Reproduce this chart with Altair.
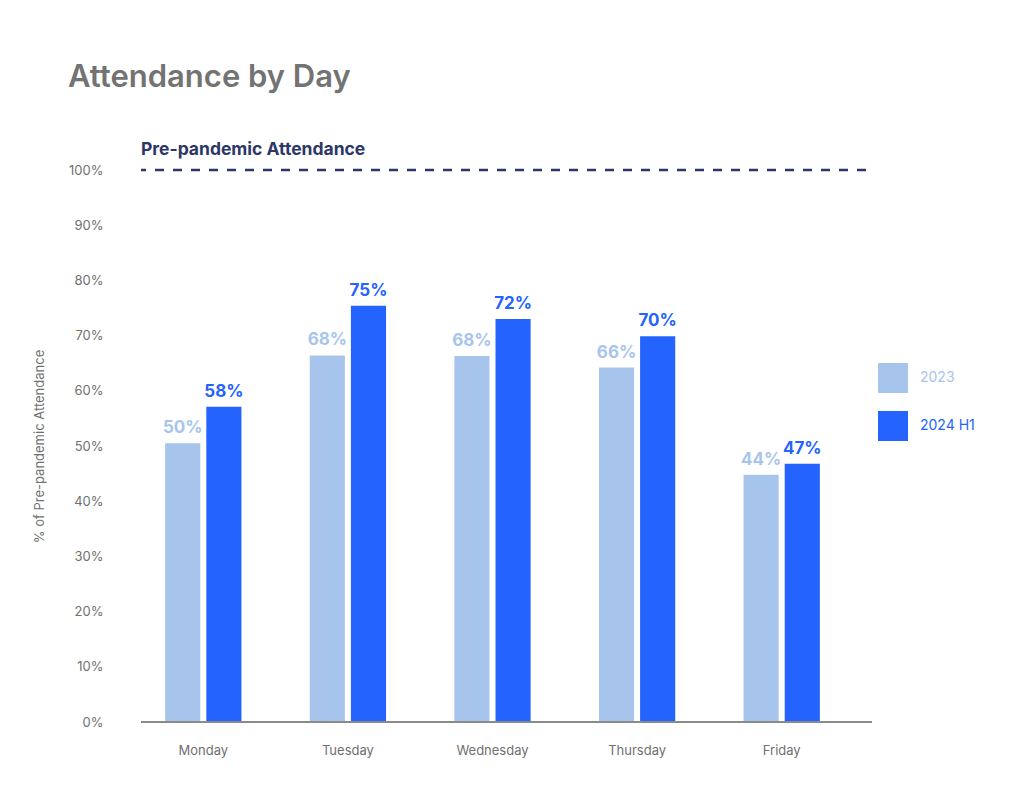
import altair as alt
import pandas as pd

days = ["Monday", "Tuesday", "Wednesday", "Thursday", "Friday"]
series = ["2023", "2024 H1"]
values_2023 = [50.5, 66.4, 66.3, 64.2, 44.8]
values_2024 = [57.1, 75.4, 73.0, 69.9, 46.8]
labels_2023 = ["50%", "68%", "68%", "66%", "44%"]
labels_2024 = ["58%", "75%", "72%", "70%", "47%"]
colors = ["#a7c5ec", "#2563ff"]
y_ticks = [0, 10, 20, 30, 40, 50, 60, 70, 80, 90, 100]
reference_value = 100
reference_label = "Pre-pandemic Attendance"

rows = []
for i, d in enumerate(days):
    rows.append({"day": d, "series": series[0], "value": values_2023[i], "label": labels_2023[i]})
    rows.append({"day": d, "series": series[1], "value": values_2024[i], "label": labels_2024[i]})
df = pd.DataFrame(rows)

FONT = "Inter"
GRAY = "#707070"
NAVY = "#2c3768"

x_enc = alt.X("day:N", sort=days, title=None,
              scale=alt.Scale(range=[-10, 713], paddingInner=0, paddingOuter=0),
              axis=alt.Axis(labelAngle=0, ticks=False, domain=False, labelPadding=22,
                            labelFont=FONT, labelFontSize=13, labelColor=GRAY))
xoff = alt.XOffset("series:N", sort=series,
                   scale=alt.Scale(paddingInner=0.146, paddingOuter=0.83))
y_enc = alt.Y("value:Q", title="% of Pre-pandemic Attendance",
              scale=alt.Scale(domain=[0, 100], nice=False),
              axis=alt.Axis(values=y_ticks, labelExpr="datum.value + '%'", grid=False,
                            ticks=False, domain=False, labelPadding=38,
                            labelFont=FONT, labelFontSize=13, labelColor=GRAY,
                            titleFont=FONT, titleFontSize=13, titleColor=GRAY,
                            titleFontWeight="normal", titlePadding=22))
color_enc = alt.Color("series:N", sort=series,
                      scale=alt.Scale(domain=series, range=colors),
                      legend=alt.Legend(title=None, orient="none", legendX=737, legendY=193,
                                        symbolType="square", symbolSize=900, symbolStrokeWidth=0,
                                        symbolOpacity=1, rowPadding=18, labelOffset=12,
                                        labelFont=FONT, labelFontSize=14,
                                        labelColor={"expr": "datum.label == '2023' ? '#a7c5ec' : '#2563ff'"}))

base = alt.Chart(df)
bars = base.mark_bar(opacity=1).encode(x=x_enc, xOffset=xoff, y=y_enc, color=color_enc)
texts = base.mark_text(baseline="bottom", dy=-6, font=FONT, fontSize=17, fontWeight="bold").encode(
    x=alt.X("day:N", sort=days), xOffset=alt.XOffset("series:N", sort=series),
    y="value:Q", text="label:N",
    color=alt.Color("series:N", sort=series, scale=alt.Scale(domain=series, range=colors), legend=None))

ref_df = pd.DataFrame({"v": [reference_value], "t": [reference_label], "z": [0]})
ref_rule = alt.Chart(ref_df).mark_rule(color=NAVY, strokeWidth=2.5, strokeDash=[9, 9], strokeDashOffset=4).encode(
    y="v:Q", x=alt.value(0), x2=alt.value(726))
ref_text = alt.Chart(ref_df).mark_text(align="left", baseline="middle", dy=-20, font=FONT,
                                       fontSize=17.5, fontWeight="bold", color=NAVY).encode(
    y="v:Q", x=alt.value(0), text="t:N")
baseline = alt.Chart(ref_df).mark_rule(color="#8a8a8a", strokeWidth=2).encode(
    y="z:Q", x=alt.value(0), x2=alt.value(731))

chart = alt.layer(bars, baseline, texts, ref_rule, ref_text).properties(
    width=731, height=552,
    padding={"left": 141, "top": 170, "right": 152, "bottom": 75},
    autosize=alt.AutoSizeParams(type="none"),
    background="white",
    title=alt.Title("Attendance by Day", anchor="start", frame="group", dx=-73, offset=23,
                    baseline="alphabetic", font=FONT, fontSize=31, fontWeight=600, color="#737373"),
).configure_view(strokeWidth=0, stroke=None)

chart.save("out.html", embed_options={"renderer": "svg", "actions": False})
